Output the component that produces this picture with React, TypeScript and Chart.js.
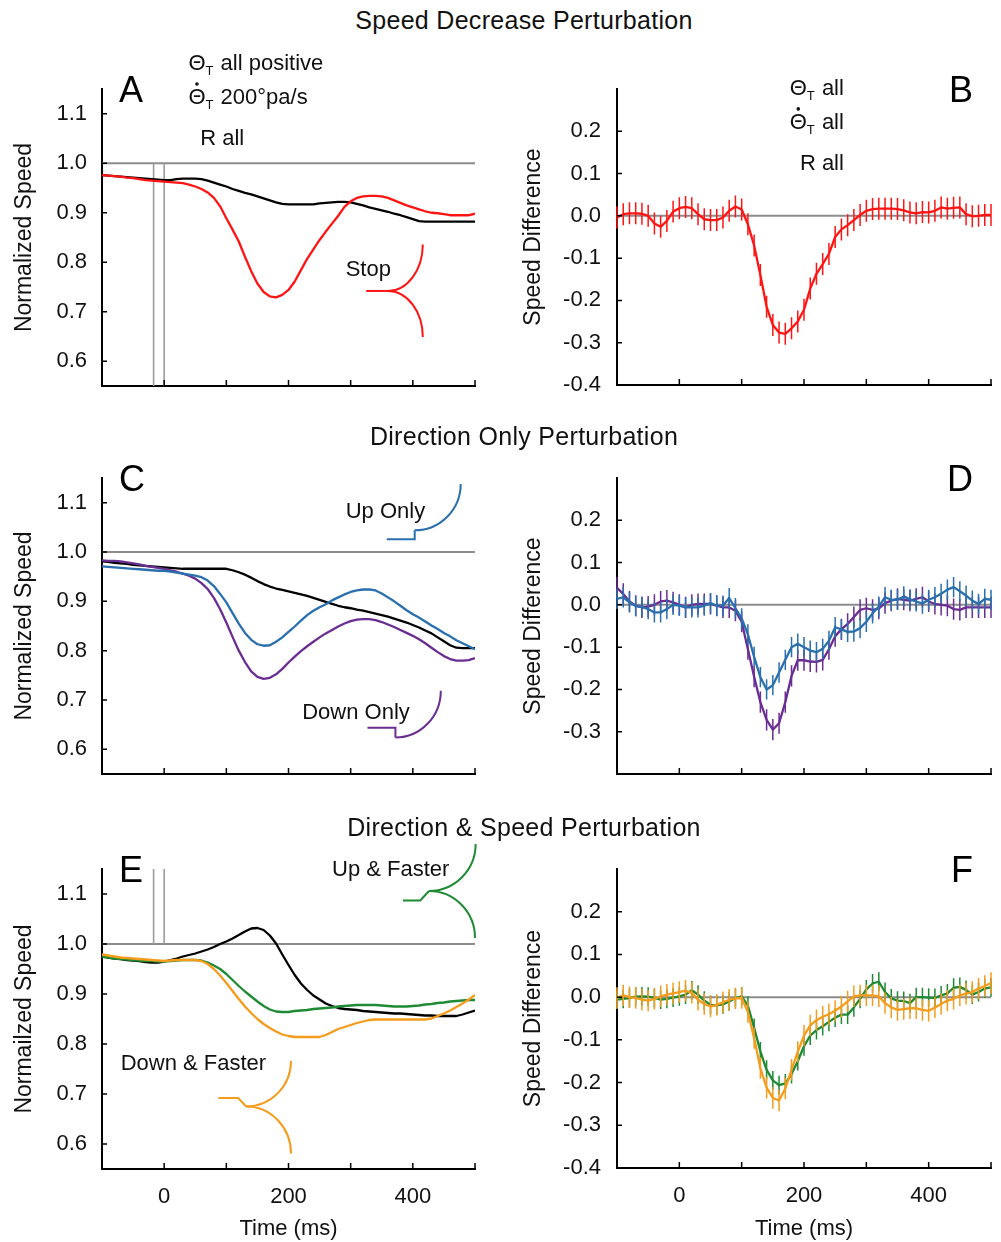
import React, { useEffect, useRef } from "react";
import { Chart, registerables } from "chart.js";

Chart.register(...registerables);

const FONT = '"Liberation Sans", Arial, Helvetica, sans-serif';
Chart.defaults.font.family = FONT;

// ---------------- data ----------------
const TIME = [
  -100, -90, -80, -70, -60, -50, -40, -30, -20, -10,
  0, 10, 20, 30, 40, 50, 60, 70, 80, 90,
  100, 110, 120, 130, 140, 150, 160, 170, 180, 190,
  200, 210, 220, 230, 240, 250, 260, 270, 280, 290,
  300, 310, 320, 330, 340, 350, 360, 370, 380, 390,
  400, 410, 420, 430, 440, 450, 460, 470, 480, 490,
  500,
];

const X_TICKS = [-100, 0, 100, 200, 300, 400, 500];
const X_TICK_LABELS = ["", "0", "", "200", "", "400", ""];
const SPEED_TICKS = [0.6, 0.7, 0.8, 0.9, 1.0, 1.1];
const DIFF_TICKS = [-0.4, -0.3, -0.2, -0.1, 0.0, 0.1, 0.2];
const DIFF_TICKS_D = [-0.3, -0.2, -0.1, 0.0, 0.1, 0.2];
const CUE_TIMES = [-17, 0];

// Panel A: normalized speed
const A_STOP = [
  0.976, 0.975, 0.974, 0.973, 0.971, 0.970, 0.968, 0.966, 0.965, 0.964,
  0.963, 0.962, 0.961, 0.960, 0.957, 0.953, 0.948, 0.941, 0.930, 0.913,
  0.889, 0.866, 0.842, 0.811, 0.782, 0.757, 0.740, 0.731, 0.729, 0.734,
  0.744, 0.761, 0.784, 0.807, 0.826, 0.845, 0.862, 0.878, 0.894, 0.912,
  0.923, 0.930, 0.933, 0.934, 0.934, 0.933, 0.930, 0.925, 0.920, 0.915,
  0.911, 0.907, 0.903, 0.900, 0.899, 0.897, 0.895, 0.895, 0.895, 0.895,
  0.898,
];
const A_CONTROL = [
  0.976, 0.975, 0.974, 0.973, 0.972, 0.971, 0.970, 0.969, 0.968, 0.967,
  0.966, 0.966, 0.968, 0.969, 0.969, 0.969, 0.968, 0.965, 0.961, 0.957,
  0.953, 0.948, 0.944, 0.940, 0.937, 0.933, 0.929, 0.925, 0.921, 0.918,
  0.917, 0.917, 0.917, 0.917, 0.917, 0.919, 0.920, 0.921, 0.922, 0.922,
  0.921, 0.918, 0.915, 0.911, 0.908, 0.905, 0.902, 0.898, 0.895, 0.891,
  0.887, 0.883, 0.882, 0.882, 0.882, 0.882, 0.882, 0.882, 0.882, 0.882,
  0.882,
];

// Panel C
const C_CONTROL = [
  0.981, 0.980, 0.978, 0.977, 0.976, 0.974, 0.973, 0.972, 0.971, 0.970,
  0.969, 0.968, 0.967, 0.966, 0.966, 0.966, 0.966, 0.966, 0.966, 0.966,
  0.966, 0.963, 0.959, 0.954, 0.948, 0.941, 0.935, 0.930, 0.926, 0.923,
  0.920, 0.917, 0.914, 0.911, 0.907, 0.903, 0.899, 0.895, 0.891, 0.888,
  0.886, 0.883, 0.881, 0.878, 0.875, 0.872, 0.869, 0.865, 0.861, 0.857,
  0.852, 0.847, 0.841, 0.835, 0.827, 0.819, 0.811, 0.806, 0.805, 0.805,
  0.805,
];
const C_UP = [
  0.971, 0.970, 0.969, 0.968, 0.967, 0.966, 0.965, 0.964, 0.963, 0.962,
  0.962, 0.960, 0.958, 0.956, 0.954, 0.952, 0.949, 0.942, 0.931, 0.915,
  0.898, 0.876, 0.855, 0.836, 0.822, 0.813, 0.810, 0.811, 0.818, 0.827,
  0.838, 0.849, 0.861, 0.872, 0.881, 0.888, 0.894, 0.902, 0.908, 0.914,
  0.919, 0.922, 0.924, 0.924, 0.922, 0.916, 0.908, 0.900, 0.891, 0.882,
  0.874, 0.867, 0.859, 0.851, 0.844, 0.836, 0.829, 0.821, 0.815, 0.809,
  0.803,
];
const C_DOWN = [
  0.983, 0.982, 0.982, 0.981, 0.979, 0.977, 0.975, 0.972, 0.970, 0.968,
  0.966, 0.963, 0.960, 0.956, 0.952, 0.946, 0.937, 0.925, 0.907, 0.884,
  0.857, 0.828, 0.800, 0.777, 0.758, 0.747, 0.743, 0.745, 0.752, 0.763,
  0.776, 0.788, 0.799, 0.809, 0.818, 0.827, 0.835, 0.842, 0.849, 0.855,
  0.860, 0.863, 0.864, 0.864, 0.862, 0.858, 0.853, 0.848, 0.842, 0.836,
  0.830, 0.823, 0.815, 0.806, 0.797, 0.789, 0.783, 0.780, 0.780, 0.781,
  0.785,
];

// Panel E
const E_CONTROL = [
  0.975, 0.973, 0.971, 0.970, 0.968, 0.967, 0.966, 0.964, 0.963, 0.963,
  0.965, 0.968, 0.971, 0.975, 0.978, 0.981, 0.985, 0.989, 0.994, 1.000,
  1.005, 1.011, 1.018, 1.025, 1.031, 1.032, 1.028, 1.017, 1.001, 0.979,
  0.958, 0.938, 0.921, 0.908, 0.897, 0.889, 0.881, 0.876, 0.872, 0.870,
  0.869, 0.868, 0.866, 0.865, 0.864, 0.863, 0.862, 0.861, 0.861, 0.860,
  0.859, 0.858, 0.857, 0.857, 0.856, 0.856, 0.856, 0.856, 0.859, 0.863,
  0.867,
];
const E_UP_FASTER = [
  0.975, 0.973, 0.971, 0.970, 0.969, 0.968, 0.967, 0.966, 0.966, 0.965,
  0.965, 0.966, 0.967, 0.968, 0.968, 0.968, 0.967, 0.963, 0.957, 0.950,
  0.940, 0.928, 0.916, 0.905, 0.895, 0.885, 0.876, 0.869, 0.865, 0.864,
  0.864, 0.866, 0.867, 0.868, 0.870, 0.871, 0.872, 0.873, 0.875, 0.876,
  0.877, 0.878, 0.878, 0.878, 0.878, 0.877, 0.876, 0.875, 0.875, 0.875,
  0.876, 0.877, 0.879, 0.880, 0.882, 0.883, 0.885, 0.886, 0.887, 0.888,
  0.888,
];
const E_DOWN_FASTER = [
  0.979, 0.977, 0.975, 0.973, 0.972, 0.971, 0.970, 0.969, 0.968, 0.967,
  0.966, 0.967, 0.968, 0.968, 0.968, 0.968, 0.966, 0.960, 0.950, 0.937,
  0.922, 0.906, 0.890, 0.875, 0.862, 0.850, 0.840, 0.832, 0.825, 0.819,
  0.816, 0.814, 0.814, 0.814, 0.814, 0.814, 0.818, 0.824, 0.830, 0.834,
  0.838, 0.842, 0.845, 0.848, 0.849, 0.849, 0.849, 0.849, 0.849, 0.849,
  0.849, 0.849, 0.849, 0.851, 0.856, 0.861, 0.867, 0.874, 0.881, 0.889,
  0.898,
];

// Panel B: speed difference
const B_STOP_DIFF = [
  -0.004, 0.004, 0.006, 0.006, 0.005, 0.000, -0.018, -0.026, -0.012, 0.010,
  0.018, 0.021, 0.018, 0.004, -0.008, -0.010, -0.010, -0.004, 0.012, 0.022,
  0.015, -0.020, -0.070, -0.140, -0.215, -0.258, -0.276, -0.279, -0.266, -0.250,
  -0.222, -0.172, -0.137, -0.114, -0.090, -0.050, -0.032, -0.022, -0.010, 0.002,
  0.012, 0.016, 0.017, 0.017, 0.017, 0.016, 0.013, 0.008, 0.006, 0.009,
  0.008, 0.012, 0.020, 0.017, 0.019, 0.020, 0.004, -0.001, 0.000, 0.002,
  0.002,
];
const B_STOP_ERR = 0.026;

// Panel D
const D_UP_DIFF = [
  0.014, 0.018, 0.006, -0.003, -0.005, -0.010, -0.018, -0.018, -0.010, 0.000,
  -0.002, -0.006, -0.006, -0.006, -0.002, 0.004, -0.002, -0.002, 0.016, -0.008,
  -0.032, -0.070, -0.123, -0.171, -0.200, -0.190, -0.160, -0.130, -0.100, -0.092,
  -0.100, -0.108, -0.112, -0.104, -0.085, -0.053, -0.058, -0.064, -0.063, -0.055,
  -0.040, -0.020, -0.004, 0.018, 0.012, 0.012, 0.020, 0.013, 0.008, 0.003,
  0.012, 0.018, 0.026, 0.036, 0.042, 0.032, 0.022, 0.010, 0.002, 0.014,
  0.012,
];
const D_UP_ERR = 0.024;
const D_DOWN_DIFF = [
  0.040, 0.026, 0.008, -0.002, -0.006, -0.004, 0.000, 0.008, 0.010, 0.006,
  0.000, -0.006, 0.000, 0.002, 0.002, 0.002, -0.002, -0.006, -0.006, -0.014,
  -0.040, -0.105, -0.170, -0.230, -0.272, -0.295, -0.280, -0.230, -0.168, -0.131,
  -0.131, -0.134, -0.135, -0.130, -0.105, -0.074, -0.058, -0.045, -0.029, -0.012,
  -0.008, -0.012, -0.009, 0.004, 0.010, 0.014, 0.012, 0.010, 0.014, 0.018,
  0.008, 0.002, 0.000, -0.002, -0.010, -0.012, -0.006, -0.006, -0.006, -0.006,
  -0.006,
];
const D_DOWN_ERR = 0.025;

// Panel F
const F_UP_FASTER_DIFF = [
  -0.006, -0.004, -0.002, 0.001, 0.002, 0.001, -0.002, -0.006, -0.004, -0.001,
  0.002, 0.006, 0.016, 0.006, -0.008, -0.018, -0.019, -0.017, -0.010, -0.002,
  0.002, -0.020, -0.072, -0.127, -0.170, -0.195, -0.206, -0.202, -0.180, -0.150,
  -0.115, -0.090, -0.077, -0.068, -0.058, -0.048, -0.041, -0.041, -0.024, -0.004,
  0.018, 0.032, 0.036, 0.012, -0.003, -0.008, -0.009, -0.014, 0.000, 0.000,
  -0.001, -0.002, 0.004, 0.009, 0.022, 0.024, 0.017, 0.006, 0.012, 0.020,
  0.023,
];
const F_UP_FASTER_ERR = 0.022;
const F_DOWN_FASTER_DIFF = [
  -0.002, 0.004, 0.000, -0.002, -0.006, -0.008, -0.004, 0.002, 0.006, 0.009,
  0.012, 0.015, 0.010, -0.006, -0.016, -0.022, -0.018, -0.012, -0.006, -0.003,
  -0.002, -0.035, -0.096, -0.166, -0.212, -0.236, -0.242, -0.214, -0.170, -0.128,
  -0.090, -0.066, -0.054, -0.046, -0.040, -0.032, -0.022, -0.010, 0.002, 0.004,
  0.004, 0.004, 0.002, -0.014, -0.024, -0.030, -0.028, -0.026, -0.026, -0.030,
  -0.032, -0.024, -0.016, -0.008, -0.004, 0.004, 0.008, 0.012, 0.020, 0.026,
  0.033,
];
const F_DOWN_FASTER_ERR = 0.025;

// Annotation glyphs (time, value) anchors: polyline then quarter arcs
const STOP_ICON = { path: [[325, 0.742], [360, 0.742]], arcs: [[416, 0.836], [416, 0.649]] };
const UP_ONLY_ICON = { path: [[358, 1.026], [403, 1.026], [403, 1.044]], arcs: [[477, 1.138]] };
const DOWN_ONLY_ICON = { path: [[327, 0.644], [372, 0.644], [372, 0.624]], arcs: [[445, 0.719]] };
const UP_FASTER_ICON = { path: [[384, 1.087], [412, 1.087], [426, 1.106]], arcs: [[501, 1.2], [500, 1.012]] };
const DOWN_FASTER_ICON = { path: [[87, 0.692], [119, 0.692], [132, 0.675]], arcs: [[204, 0.766], [204, 0.581]] };

// ---------------- style ----------------
const RED = "#ff1414";
const BLUE = "#2a6fae";
const PURPLE = "#6a2d92";
const GREEN = "#1f8a34";
const ORANGE = "#f59c1d";
const BLACK = "#000000";
const REF_GRAY = "#8c8c8c";
const CUE_GRAY = "#9c9c9c";
const TEXT = "#111111";

type Series = { values: number[]; color: string; err?: number; width?: number };
type Icon = { path: number[][]; arcs: number[][]; color: string };
type Label = { text: string; t: number; v: number; align?: "left" | "right" };
type Theta = { t: number; v: number; dot: boolean; rest: string; align: "left" | "right" };

type Panel = {
  key: string;
  left: number; top: number; width: number; height: number;
  plot: { left: number; top: number; right: number; bottom: number };
  yMin: number; yMax: number; yTicks: number[];
  yTitle: string; yTitlePad: number; yTickPad: number;
  xLabels: boolean;
  refValue: number;
  cueRange?: number[];
  letterSide: "left" | "right";
  series: Series[];
  icons: Icon[];
  labels: Label[];
  thetas: Theta[];
};

const PANELS: Panel[] = [
  {
    key: "A", left: 0, top: 40, width: 500, height: 370,
    plot: { left: 102, top: 49, right: 475, bottom: 346 },
    yMin: 0.55, yMax: 1.15, yTicks: SPEED_TICKS,
    yTitle: "Normalized Speed", yTitlePad: 11, yTickPad: 15, xLabels: false,
    refValue: 1.0, cueRange: [1.0, 0.55], letterSide: "left",
    series: [
      { values: A_STOP, color: RED },
      { values: A_CONTROL, color: BLACK },
    ],
    icons: [{ ...STOP_ICON, color: RED }],
    labels: [
      { text: "Stop", t: 292, v: 0.772 },
      { text: "R all", t: 58, v: 1.037 },
    ],
    thetas: [
      { t: 39, v: 1.189, dot: false, rest: " all positive", align: "left" },
      { t: 39, v: 1.12, dot: true, rest: " 200°pa/s", align: "left" },
    ],
  },
  {
    key: "B", left: 500, top: 40, width: 501, height: 370,
    plot: { left: 117, top: 49, right: 491, bottom: 345 },
    yMin: -0.4, yMax: 0.3, yTicks: DIFF_TICKS,
    yTitle: "Speed Difference", yTitlePad: 20, yTickPad: 16, xLabels: false,
    refValue: 0, letterSide: "right",
    series: [{ values: B_STOP_DIFF, color: RED, err: B_STOP_ERR }],
    icons: [],
    labels: [{ text: "R all", t: 264, v: 0.109, align: "right" }],
    thetas: [
      { t: 264, v: 0.286, dot: false, rest: " all", align: "right" },
      { t: 264, v: 0.206, dot: true, rest: " all", align: "right" },
    ],
  },
  {
    key: "C", left: 0, top: 450, width: 500, height: 350,
    plot: { left: 102, top: 28, right: 475, bottom: 324 },
    yMin: 0.55, yMax: 1.15, yTicks: SPEED_TICKS,
    yTitle: "Normalized Speed", yTitlePad: 11, yTickPad: 15, xLabels: false,
    refValue: 1.0, letterSide: "left",
    series: [
      { values: C_UP, color: BLUE },
      { values: C_DOWN, color: PURPLE },
      { values: C_CONTROL, color: BLACK },
    ],
    icons: [
      { ...UP_ONLY_ICON, color: BLUE },
      { ...DOWN_ONLY_ICON, color: PURPLE },
    ],
    labels: [
      { text: "Up Only", t: 292, v: 1.068 },
      { text: "Down Only", t: 222, v: 0.661 },
    ],
    thetas: [],
  },
  {
    key: "D", left: 500, top: 450, width: 501, height: 350,
    plot: { left: 117, top: 28, right: 491, bottom: 324 },
    yMin: -0.4, yMax: 0.3, yTicks: DIFF_TICKS_D,
    yTitle: "Speed Difference", yTitlePad: 20, yTickPad: 16, xLabels: false,
    refValue: 0, letterSide: "right",
    series: [
      { values: D_UP_DIFF, color: BLUE, err: D_UP_ERR },
      { values: D_DOWN_DIFF, color: PURPLE, err: D_DOWN_ERR },
    ],
    icons: [], labels: [], thetas: [],
  },
  {
    key: "E", left: 0, top: 835, width: 500, height: 407,
    plot: { left: 102, top: 34, right: 475, bottom: 334 },
    yMin: 0.55, yMax: 1.15, yTicks: SPEED_TICKS,
    yTitle: "Normailzed Speed", yTitlePad: 11, yTickPad: 15, xLabels: true,
    refValue: 1.0, cueRange: [1.0, 1.15], letterSide: "left",
    series: [
      { values: E_DOWN_FASTER, color: ORANGE },
      { values: E_UP_FASTER, color: GREEN },
      { values: E_CONTROL, color: BLACK },
    ],
    icons: [
      { ...UP_FASTER_ICON, color: GREEN },
      { ...DOWN_FASTER_ICON, color: ORANGE },
    ],
    labels: [
      { text: "Up & Faster", t: 270, v: 1.137 },
      { text: "Down & Faster", t: -70, v: 0.749 },
    ],
    thetas: [],
  },
  {
    key: "F", left: 500, top: 835, width: 501, height: 407,
    plot: { left: 117, top: 34, right: 491, bottom: 333 },
    yMin: -0.4, yMax: 0.3, yTicks: DIFF_TICKS,
    yTitle: "Speed Difference", yTitlePad: 20, yTickPad: 16, xLabels: true,
    refValue: 0, letterSide: "right",
    series: [
      { values: F_DOWN_FASTER_DIFF, color: ORANGE, err: F_DOWN_FASTER_ERR },
      { values: F_UP_FASTER_DIFF, color: GREEN, err: F_UP_FASTER_ERR },
    ],
    icons: [], labels: [], thetas: [],
  },
];

const TITLES = [
  { text: "Speed Decrease Perturbation", cy: 19.5 },
  { text: "Direction Only Perturbation", cy: 435.5 },
  { text: "Direction & Speed Perturbation", cy: 826.5 },
];

// ---------------- drawing helpers ----------------
function quarterArc(ctx: CanvasRenderingContext2D, x0: number, y0: number, x1: number, y1: number) {
  const cx = x0, cy = y1;
  const rx = Math.abs(x1 - x0), ry = Math.abs(y1 - y0);
  const a0 = y0 > cy ? Math.PI / 2 : -Math.PI / 2;
  const a1 = x1 >= cx ? 0 : Math.PI;
  ctx.beginPath();
  ctx.ellipse(cx, cy, rx, ry, 0, a0, a1, a0 > a1);
  ctx.stroke();
}

function drawTheta(ctx: CanvasRenderingContext2D, x: number, base: number, th: Theta) {
  const size = 22;
  const big = `${size}px ${FONT}`;
  const small = `13px ${FONT}`;
  ctx.font = big;
  const wTh = ctx.measureText("\u0398").width;
  const wRest = ctx.measureText(th.rest).width;
  ctx.font = small;
  const wT = ctx.measureText("T").width + 1;
  const total = wTh + wT + wRest;
  const x0 = th.align === "right" ? x - total : x;
  ctx.textAlign = "left";
  ctx.textBaseline = "alphabetic";
  ctx.font = big;
  ctx.fillText("\u0398", x0, base);
  if (th.dot) {
    ctx.beginPath();
    ctx.arc(x0 + wTh / 2, base - size * 0.72 - 4, 1.8, 0, Math.PI * 2);
    ctx.fill();
  }
  ctx.font = small;
  ctx.fillText("T", x0 + wTh, base + 5);
  ctx.font = big;
  ctx.fillText(th.rest, x0 + wTh + wT, base);
}

function makeDecor(p: Panel) {
  return {
    id: "decor" + p.key,
    beforeDatasetsDraw(chart: any) {
      const { ctx, chartArea: ca } = chart;
      const xs = chart.scales.x, ys = chart.scales.y;
      ctx.save();
      ctx.strokeStyle = REF_GRAY;
      ctx.lineWidth = 2;
      const yr = ys.getPixelForValue(p.refValue);
      ctx.beginPath();
      ctx.moveTo(ca.left, yr);
      ctx.lineTo(ca.right, yr);
      ctx.stroke();
      if (p.cueRange) {
        ctx.strokeStyle = CUE_GRAY;
        ctx.lineWidth = 1.6;
        for (const t of CUE_TIMES) {
          const x = xs.getPixelForValue(t);
          ctx.beginPath();
          ctx.moveTo(x, ys.getPixelForValue(p.cueRange[0]));
          ctx.lineTo(x, ys.getPixelForValue(p.cueRange[1]));
          ctx.stroke();
        }
      }
      ctx.restore();
    },
    afterDatasetDraw(chart: any, args: any) {
      const s = p.series[args.index];
      if (!s || !s.err) return;
      const { ctx } = chart;
      const xs = chart.scales.x, ys = chart.scales.y;
      ctx.save();
      ctx.strokeStyle = s.color;
      ctx.lineWidth = 1.5;
      ctx.beginPath();
      TIME.forEach((t, i) => {
        const x = xs.getPixelForValue(t);
        ctx.moveTo(x, ys.getPixelForValue(s.values[i] + (s.err as number)));
        ctx.lineTo(x, ys.getPixelForValue(s.values[i] - (s.err as number)));
      });
      ctx.stroke();
      ctx.restore();
    },
    afterDraw(chart: any) {
      const { ctx, chartArea: ca } = chart;
      const xs = chart.scales.x, ys = chart.scales.y;
      ctx.save();
      // inside tick marks
      ctx.strokeStyle = "#000";
      ctx.lineWidth = 1.5;
      ctx.beginPath();
      for (const v of X_TICKS) {
        const x = xs.getPixelForValue(v);
        ctx.moveTo(x, ca.bottom);
        ctx.lineTo(x, ca.bottom - 6);
      }
      for (const v of p.yTicks) {
        const y = ys.getPixelForValue(v);
        ctx.moveTo(ca.left, y);
        ctx.lineTo(ca.left + 5, y);
      }
      ctx.stroke();

      // panel letter
      ctx.fillStyle = "#000";
      ctx.font = `36px ${FONT}`;
      ctx.textBaseline = "alphabetic";
      if (p.letterSide === "left") {
        ctx.textAlign = "left";
        ctx.fillText(p.key, ca.left + 17, ca.top + 13);
      } else {
        ctx.textAlign = "right";
        ctx.fillText(p.key, ca.right - 18, ca.top + 13);
      }

      // icons
      for (const ic of p.icons) {
        ctx.strokeStyle = ic.color;
        ctx.lineWidth = 2;
        ctx.lineJoin = "miter";
        const pts = ic.path.map(([t, v]) => [xs.getPixelForValue(t), ys.getPixelForValue(v)]);
        ctx.beginPath();
        pts.forEach(([x, y], i) => (i === 0 ? ctx.moveTo(x, y) : ctx.lineTo(x, y)));
        ctx.stroke();
        const [jx, jy] = pts[pts.length - 1];
        for (const [t, v] of ic.arcs) {
          quarterArc(ctx, jx, jy, xs.getPixelForValue(t), ys.getPixelForValue(v));
        }
      }

      // labels
      ctx.fillStyle = TEXT;
      ctx.font = `22px ${FONT}`;
      ctx.textBaseline = "alphabetic";
      for (const lb of p.labels) {
        ctx.textAlign = lb.align || "left";
        ctx.fillText(lb.text, xs.getPixelForValue(lb.t), ys.getPixelForValue(lb.v));
      }
      for (const th of p.thetas) {
        drawTheta(ctx, xs.getPixelForValue(th.t), ys.getPixelForValue(th.v), th);
      }
      ctx.restore();
    },
  };
}

function PanelChart({ p }: { p: Panel }) {
  const ref = useRef<HTMLCanvasElement | null>(null);
  useEffect(() => {
    if (!ref.current) return;
    const chart = new Chart(ref.current, {
      type: "line",
      data: {
        datasets: p.series.map((s) => ({
          data: TIME.map((t, i) => ({ x: t, y: s.values[i] })),
          borderColor: s.color,
          backgroundColor: s.color,
          borderWidth: s.width ?? 2.3,
          pointRadius: 0,
          tension: 0,
          fill: false,
          borderJoinStyle: "round" as const,
        })),
      },
      options: {
        responsive: false,
        animation: false,
        devicePixelRatio: 1,
        events: [],
        layout: {
          padding: { left: 0, top: p.plot.top, right: p.width - p.plot.right, bottom: 0 },
        },
        plugins: { legend: { display: false }, tooltip: { enabled: false } },
        scales: {
          x: {
            type: "linear",
            position: "bottom",
            min: -100,
            max: 500,
            bounds: "data",
            grid: { display: false, drawTicks: false },
            border: { display: true, color: "#000", width: 2 },
            ticks: {
              display: p.xLabels,
              autoSkip: false,
              maxRotation: 0,
              padding: 15,
              color: TEXT,
              font: { size: 22, family: FONT },
              callback: (v: any) => {
                const idx = X_TICKS.indexOf(Number(v));
                return idx >= 0 ? X_TICK_LABELS[idx] : "";
              },
            },
            title: {
              display: p.xLabels,
              text: "Time (ms)",
              color: TEXT,
              font: { size: 22, family: FONT },
              padding: { top: 0, bottom: 0 },
            },
            afterBuildTicks: (s: any) => {
              s.ticks = X_TICKS.map((v) => ({ value: v }));
            },
            afterFit: (s: any) => {
              s.height = p.height - p.plot.bottom;
              s.paddingLeft = 0;
              s.paddingRight = 0;
              s.paddingTop = 0;
              s.paddingBottom = 0;
            },
          },
          y: {
            type: "linear",
            position: "left",
            min: p.yMin,
            max: p.yMax,
            bounds: "data",
            grid: { display: false, drawTicks: false },
            border: { display: true, color: "#000", width: 2 },
            ticks: {
              autoSkip: false,
              padding: p.yTickPad,
              color: TEXT,
              font: { size: 22, family: FONT },
              callback: (v: any) => Number(v).toFixed(1),
            },
            title: {
              display: true,
              text: p.yTitle,
              color: TEXT,
              font: { size: 23, family: FONT },
              padding: { top: p.yTitlePad, bottom: 0 },
            },
            afterBuildTicks: (s: any) => {
              s.ticks = p.yTicks.map((v) => ({ value: v }));
            },
            afterFit: (s: any) => {
              s.width = p.plot.left;
              s.paddingLeft = 0;
              s.paddingRight = 0;
              s.paddingTop = 0;
              s.paddingBottom = 0;
            },
          },
        },
      } as any,
      plugins: [makeDecor(p)],
    });
    return () => chart.destroy();
  }, [p]);
  return (
    <canvas
      ref={ref}
      width={p.width}
      height={p.height}
      style={{ position: "absolute", left: p.left, top: p.top, width: p.width, height: p.height }}
    />
  );
}

export default function App() {
  return (
    <div
      style={{
        position: "absolute",
        left: 0,
        top: 0,
        width: 1001,
        height: 1242,
        background: "#ffffff",
        overflow: "hidden",
        fontFamily: FONT,
      }}
    >
      {PANELS.map((p) => (
        <PanelChart key={p.key} p={p} />
      ))}
      {TITLES.map((t) => (
        <div
          key={t.text}
          style={{
            position: "absolute",
            left: 524,
            top: t.cy - 15,
            transform: "translateX(-50%)",
            whiteSpace: "nowrap",
            fontSize: 25,
            lineHeight: "30px",
            letterSpacing: "0.3px",
            color: TEXT,
            zIndex: 2,
          }}
        >
          {t.text}
        </div>
      ))}
    </div>
  );
}
